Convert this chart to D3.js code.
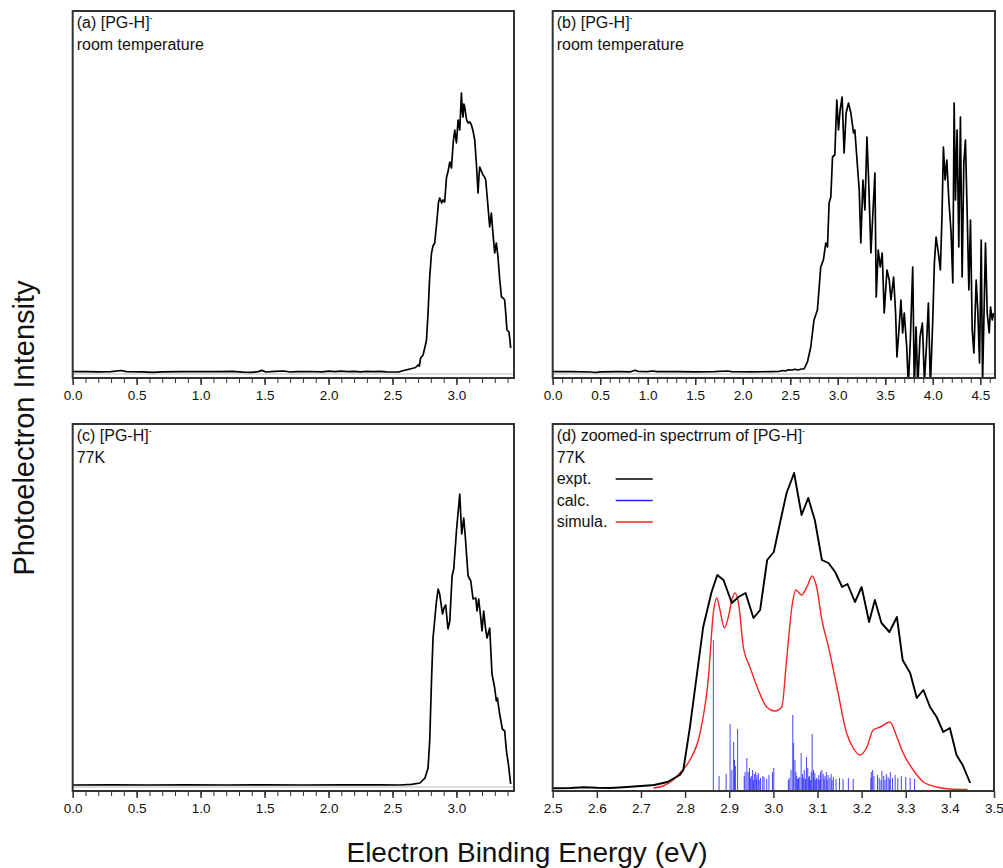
<!DOCTYPE html>
<html>
<head>
<meta charset="utf-8">
<script src="https://cdn.jsdelivr.net/npm/d3@7"></script>
<style>
  body { margin: 0; background: #fff; }
  text { font-family: "Liberation Sans", Arial, sans-serif; }
</style>
</head>
<body>
<div id="wrapper"></div>
<script>
// (a) room temperature spectrum: [eV, intensity]
const spectrumA = [
  [0.00,2.3],[0.10,2.3],[0.20,2.2],[0.30,2.4],[0.38,3.5],[0.42,2.3],[0.55,2.1],[0.62,1.6],[0.70,2.2],
  [0.85,2.3],[1.00,2.4],[1.15,2.3],[1.25,2.6],[1.33,1.8],[1.40,1.7],[1.45,2.4],[1.48,3.6],[1.51,2.0],
  [1.58,2.6],[1.65,3.0],[1.70,2.0],[1.75,2.3],[1.85,2.5],[1.95,2.2],[2.00,2.8],[2.05,2.3],[2.10,2.9],
  [2.15,2.4],[2.20,2.6],[2.25,2.2],[2.30,2.7],[2.35,2.3],[2.40,2.6],[2.45,2.2],[2.50,2.0],[2.55,2.0],
  [2.58,3.2],[2.62,4.5],[2.66,5.8],[2.68,6.5],[2.70,9],[2.71,8],[2.72,16],[2.739,19],[2.754,27],
  [2.766,34],[2.778,61],[2.79,95],[2.805,121],[2.817,128],[2.830,131],[2.845,150],[2.860,172],
  [2.869,176],[2.885,171],[2.895,174],[2.908,172],[2.922,196],[2.935,203],[2.948,212],[2.961,206],
  [2.975,232],[2.987,244],[3.000,231],[3.013,254],[3.026,244],[3.039,281],[3.046,262],[3.052,257],
  [3.058,270],[3.065,267],[3.078,255],[3.091,251],[3.105,252],[3.117,249],[3.130,243],[3.143,234],
  [3.156,210],[3.169,181],[3.175,195],[3.182,207],[3.195,203],[3.208,199],[3.220,197],[3.229,194],
  [3.245,170],[3.260,147],[3.273,161],[3.286,140],[3.299,121],[3.312,131],[3.325,117],[3.338,95],
  [3.352,77],[3.365,76],[3.377,74],[3.386,60],[3.395,44],[3.411,42],[3.418,34],[3.424,26]
]

// (b) room temperature, wide range
const spectrumB = [
  [0.00,2.3],[0.20,2.3],[0.40,2.0],[0.45,1.5],[0.50,2.2],[0.70,2.3],[0.82,2.2],[0.87,3.8],[0.90,2.5],
  [1.00,2.4],[1.05,3.0],[1.10,2.3],[1.30,2.3],[1.50,2.2],[1.70,2.3],[1.84,3.0],[1.88,2.3],[2.10,2.2],
  [2.30,2.3],[2.38,2.5],[2.42,3.5],[2.45,3.0],[2.48,4.2],[2.52,4.0],[2.55,4.8],[2.58,4.0],[2.62,5.0],
  [2.645,5],[2.681,12],[2.716,27],[2.750,54],[2.786,64],[2.821,107],[2.849,114],[2.874,131],[2.892,127],
  [2.909,171],[2.927,177],[2.945,217],[2.969,219],[2.990,274],[3.008,244],[3.025,264],[3.046,277],
  [3.067,221],[3.088,261],[3.113,271],[3.138,261],[3.166,241],[3.180,244],[3.208,207],[3.226,184],
  [3.243,131],[3.265,194],[3.286,164],[3.307,237],[3.325,194],[3.349,121],[3.370,161],[3.391,201],
  [3.405,77],[3.426,124],[3.447,107],[3.468,121],[3.489,61],[3.518,104],[3.542,94],[3.560,74],
  [3.588,97],[3.609,61],[3.623,17],[3.644,44],[3.665,74],[3.683,41],[3.700,61],[3.726,27],[3.743,-12],
  [3.764,34],[3.789,107],[3.806,-15],[3.824,47],[3.842,-12],[3.866,37],[3.891,51],[3.912,-8],
  [3.933,27],[3.954,71],[3.975,-12],[4.000,54],[4.017,111],[4.035,137],[4.059,121],[4.080,104],
  [4.098,161],[4.112,227],[4.130,194],[4.148,214],[4.169,174],[4.193,141],[4.211,91],[4.225,271],
  [4.239,174],[4.256,244],[4.274,127],[4.291,257],[4.309,97],[4.327,211],[4.344,234],[4.362,161],
  [4.380,84],[4.397,154],[4.415,44],[4.433,21],[4.457,94],[4.475,61],[4.492,11],[4.510,134],
  [4.524,-8],[4.538,54],[4.555,131],[4.573,61],[4.594,41],[4.608,67],[4.626,54],[4.640,61]
]

// (c) 77K spectrum
const spectrumC = [
  [0.00,2.0],[0.30,2.1],[0.60,2.0],[0.90,2.2],[1.20,2.0],[1.50,2.1],[1.80,2.0],[2.10,2.2],[2.40,2.1],
  [2.557,2],[2.65,2.6],[2.715,4],[2.754,9],[2.778,19],[2.791,46],[2.805,106],[2.817,149],[2.844,186],
  [2.857,198],[2.869,193],[2.891,173],[2.903,179],[2.916,182],[2.934,158],[2.948,166],[2.966,211],
  [2.979,218],[3.000,256],[3.026,293],[3.041,253],[3.057,269],[3.070,249],[3.091,211],[3.112,206],
  [3.130,188],[3.151,189],[3.161,176],[3.174,188],[3.187,173],[3.200,156],[3.213,176],[3.227,159],
  [3.239,149],[3.260,159],[3.278,113],[3.299,99],[3.312,86],[3.320,89],[3.338,73],[3.359,58],
  [3.377,56],[3.391,36],[3.406,23],[3.424,3]
]

// (d) zoomed-in: experiment, simulation and calculated stick spectrum
const exptD = [
  [2.50,1.7],[2.54,2.0],[2.57,2.7],[2.60,2.2],[2.63,2.0],[2.66,2.8],[2.70,4],[2.73,5],[2.76,8],
  [2.788,15],[2.796,20],[2.811,63],[2.826,113],[2.841,163],[2.860,198],[2.873,215],[2.887,210],
  [2.906,187],[2.921,193],[2.937,197],[2.955,172],[2.970,180],[2.986,230],[3.001,238],[3.015,267],
  [3.030,297],[3.047,317],[3.064,275],[3.079,292],[3.094,270],[3.110,230],[3.125,227],[3.140,218],
  [3.156,203],[3.168,206],[3.185,188],[3.200,203],[3.217,168],[3.230,190],[3.245,167],[3.263,158],
  [3.280,173],[3.293,130],[3.310,117],[3.325,92],[3.340,100],[3.355,83],[3.370,73],[3.385,58],
  [3.400,62],[3.415,35],[3.429,25],[3.446,7]
]

const simulaD = [
  [2.728,2],[2.75,4],[2.77,9],[2.788,17],[2.811,30],[2.834,57],[2.853,113],[2.864,177],[2.872,192],
  [2.879,180],[2.889,162],[2.898,173],[2.906,190],[2.913,197],[2.921,187],[2.932,143],[2.947,123],
  [2.966,100],[2.985,83],[3.004,79],[3.019,83],[3.030,130],[3.042,183],[3.051,200],[3.064,195],
  [3.076,203],[3.088,214],[3.098,203],[3.110,170],[3.125,143],[3.144,103],[3.166,57],[3.181,42],
  [3.196,35],[3.212,43],[3.226,60],[3.242,63],[3.264,68],[3.280,53],[3.294,37],[3.317,20],
  [3.340,8],[3.370,3],[3.400,1],[3.440,0.5]
]

const calcD = [
  [2.864,150],[2.877,14],[2.893,16],[2.902,66],[2.906,20],[2.910,48],[2.912,30],[2.914,24],[2.919,61],
  [2.934,14],[2.936,18],[2.940,32],[2.943,18],[2.946,22],[2.948,12],[2.950,14],[2.953,20],[2.955,10],
  [2.957,16],[2.960,18],[2.962,11],[2.963,15],[2.966,17],[2.968,10],[2.971,12],[2.976,14],[2.979,13],
  [2.985,11],[2.990,15],[2.998,18],[3.001,22],[3.034,10],[3.036,12],[3.040,20],[3.044,75],[3.046,47],
  [3.049,30],[3.051,18],[3.053,14],[3.055,11],[3.057,12],[3.060,13],[3.063,37],[3.066,16],[3.068,12],
  [3.070,20],[3.073,11],[3.075,33],[3.078,22],[3.080,13],[3.082,14],[3.084,10],[3.086,18],[3.088,56],
  [3.091,20],[3.092,12],[3.094,17],[3.096,10],[3.098,12],[3.101,11],[3.103,15],[3.105,10],[3.107,18],
  [3.110,20],[3.113,16],[3.115,11],[3.117,14],[3.120,18],[3.122,10],[3.124,15],[3.128,12],[3.131,16],
  [3.133,10],[3.136,13],[3.142,11],[3.150,12],[3.158,11],[3.170,12],[3.181,11],[3.221,12],[3.222,18],
  [3.225,20],[3.228,14],[3.236,15],[3.240,12],[3.244,10],[3.246,19],[3.250,14],[3.253,10],[3.256,16],
  [3.260,13],[3.263,11],[3.265,18],[3.270,12],[3.276,15],[3.282,12],[3.290,14],[3.300,13],[3.310,12],
  [3.320,11]
]

const ticksA = [0, 0.5, 1.0, 1.5, 2.0, 2.5, 3.0]
const ticksB = [0, 0.5, 1.0, 1.5, 2.0, 2.5, 3.0, 3.5, 4.0, 4.5]
const ticksD = [2.5, 2.6, 2.7, 2.8, 2.9, 3.0, 3.1, 3.2, 3.3, 3.4, 3.5]

const legendNames = ["expt.", "calc.", "simula."]
const legendColors = ["#000", "#2424ff", "#f22"]

function drawChart(){

  const width = 1003
  const height = 868

  const svg = d3.select("#wrapper")
    .append("svg")
      .attr("width", width)
      .attr("height", height)

  const frameColor = "#333"
  const panelH = 367

  const panels = [
    { key: "a", x: 72.7, y: 11, w: 441.3, data: spectrumA, xDomain: [0, 3.45], yDomain: [-4, 363],
      major: ticksA, minor: d3.range(0, 3.45, 0.1), lines: ["(a) [PG-H]", "room temperature"], base: true },
    { key: "b", x: 552.7, y: 11, w: 442.3, data: spectrumB, xDomain: [0, 4.655], yDomain: [-4, 363],
      major: ticksB, minor: d3.range(0, 4.655, 0.1), lines: ["(b) [PG-H]", "room temperature"], base: true },
    { key: "c", x: 72.7, y: 424, w: 441.3, data: spectrumC, xDomain: [0, 3.45], yDomain: [-4, 363],
      major: ticksA, minor: d3.range(0, 3.45, 0.1), lines: ["(c) [PG-H]", "77K"], base: true },
    { key: "d", x: 552.7, y: 424, w: 441.3, data: exptD, xDomain: [2.5, 3.5], yDomain: [-1, 366],
      major: ticksD, minor: [], lines: ["(d) zoomed-in spectrrum of [PG-H]", "77K"], base: false },
  ]

  panels.forEach(p => {
    const g = svg.append("g")
        .attr("transform", `translate(${p.x},${p.y})`)

    const xScale = d3.scaleLinear().domain(p.xDomain).range([0, p.w])
    const yScale = d3.scaleLinear().domain(p.yDomain).range([panelH, 0])

    g.append("clipPath").attr("id", "clip-" + p.key)
      .append("rect").attr("width", p.w).attr("height", panelH)

    const plot = g.append("g").attr("clip-path", `url(#clip-${p.key})`)

    if (p.base) {
      plot.append("line")
        .attr("x1", 0).attr("x2", p.w)
        .attr("y1", yScale(0)).attr("y2", yScale(0))
        .attr("stroke", "#bbb").attr("stroke-width", 1)
    }

    const line = d3.line()
      .x(d => xScale(d[0]))
      .y(d => yScale(d[1]))

    if (p.key === "d") {
      plot.selectAll(".stick")
        .data(calcD)
        .enter().append("line")
          .attr("x1", d => xScale(d[0])).attr("x2", d => xScale(d[0]))
          .attr("y1", yScale(0)).attr("y2", d => yScale(d[1]))
          .attr("stroke", legendColors[1])
          .attr("stroke-opacity", 0.85)
          .attr("stroke-width", 1)

      plot.append("path")
        .datum(simulaD)
        .attr("d", line.curve(d3.curveMonotoneX))
        .attr("fill", "none")
        .attr("stroke", legendColors[2])
        .attr("stroke-width", 1.4)
      line.curve(d3.curveLinear)
    }

    plot.append("path")
      .datum(p.data)
      .attr("d", line)
      .attr("fill", "none")
      .attr("stroke", "#000")
      .attr("stroke-width", p.key === "d" ? 1.9 : 1.7)
      .attr("stroke-linejoin", "round")

    // frame
    g.append("rect")
      .attr("width", p.w).attr("height", panelH)
      .attr("fill", "none")
      .attr("stroke", frameColor)
      .attr("stroke-width", 2)

    // minor ticks
    if (p.minor.length) {
      const minorAxis = g.append("g")
          .attr("transform", `translate(0,${panelH})`)
          .call(d3.axisBottom(xScale).tickValues(p.minor).tickSize(5).tickFormat(""))
      minorAxis.select(".domain").remove()
      minorAxis.selectAll("line").attr("stroke", frameColor)
    }

    const xAxis = g.append("g")
        .attr("transform", `translate(0,${panelH})`)
        .call(d3.axisBottom(xScale).tickValues(p.major).tickSize(7).tickPadding(5).tickFormat(d3.format(".1f")))
    xAxis.select(".domain").remove()
    xAxis.selectAll("line").attr("stroke", frameColor).attr("stroke-width", 1.5)
    xAxis.selectAll("text")
      .attr("fill", "#111")
      .style("font-size", "13.5px")
      .style("font-family", "'Liberation Sans', Arial, sans-serif")

    // panel labels
    p.lines.forEach((t, i) => {
      const txt = g.append("text")
          .attr("x", 4)
          .attr("y", 17 + i * 21.5)
          .attr("fill", "#111")
          .style("font-size", "16px")
          .text(t)
      if (i === 0) {
        txt.append("tspan")
          .attr("dy", -7)
          .style("font-size", "9px")
          .text("-")
      }
    })

    if (p.key === "d") {
      legendNames.forEach((name, i) => {
        const ly = 17 + (i + 2) * 21.5
        g.append("text")
          .attr("x", 4)
          .attr("y", ly)
          .attr("fill", "#111")
          .style("font-size", "16px")
          .text(name)
        g.append("line")
          .attr("x1", 63).attr("x2", 100)
          .attr("y1", ly - 5).attr("y2", ly - 5)
          .attr("stroke", legendColors[i])
          .attr("stroke-width", 1.6)
      })
    }
  })

  svg.append("text")
    .attr("x", 527)
    .attr("y", 862)
    .attr("text-anchor", "middle")
    .attr("fill", "#111")
    .style("font-size", "28px")
    .text("Electron Binding Energy (eV)")

  svg.append("text")
    .attr("transform", "translate(34,428) rotate(-90)")
    .attr("text-anchor", "middle")
    .attr("fill", "#111")
    .style("font-size", "29px")
    .text("Photoelectron Intensity")
}

drawChart()
</script>
</body>
</html>
